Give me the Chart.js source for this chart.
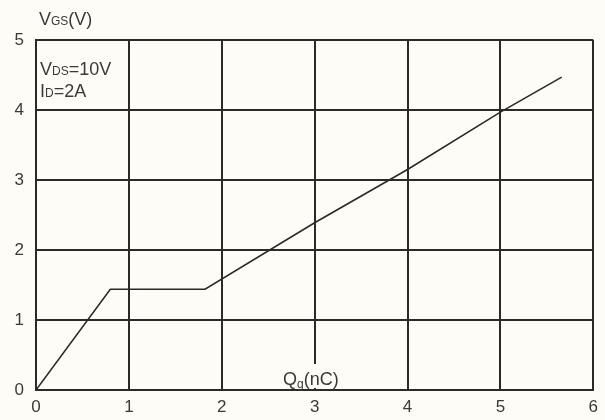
<!DOCTYPE html>
<html>
<head>
<meta charset="utf-8">
<script src="https://cdn.jsdelivr.net/npm/chart.js@4/dist/chart.umd.min.js"></script>
<style>
  html, body { margin: 0; padding: 0; background: #fdfcf7; }
  #wrap { width: 605px; height: 420px; position: relative; }
</style>
</head>
<body>
<div id="wrap"><canvas id="c" width="605" height="420"></canvas></div>
<script>
// Gate charge curve: Qg (nC) vs VGS (V)
const qgNC = [0, 0.8, 1.82, 3, 4, 5, 5.66];
const vgsV = [0, 1.44, 1.44, 2.39, 3.15, 3.97, 4.47];
const xTicks = [0, 1, 2, 3, 4, 5, 6];
const yTicks = [0, 1, 2, 3, 4, 5];

const FONT = '"Liberation Sans", Arial, sans-serif';
const INK = '#2a2a26';
const TEXT = '#3a3a36';
const PAPER = '#fdfcf7';

// Draws a label made of [text, size, dy] pieces side by side; returns end x
function drawPieces(ctx, x, y, pieces) {
  let cx = x;
  for (const [t, size, dy] of pieces) {
    ctx.font = size + 'px ' + FONT;
    ctx.fillText(t, cx, y + (dy || 0));
    cx += ctx.measureText(t).width;
  }
  return cx;
}

const labels = {
  id: 'labels',
  afterDraw(chart) {
    const ctx = chart.ctx;
    ctx.save();
    ctx.textBaseline = 'alphabetic';
    ctx.textAlign = 'left';
    // clear a box under the x-axis title so the grid line stops above it
    ctx.fillStyle = PAPER;
    ctx.fillRect(280, 364, 74, 24);
    ctx.fillStyle = TEXT;
    drawPieces(ctx, 39, 25, [['V', 18], ['GS', 12], ['(V)', 18]]);
    drawPieces(ctx, 40, 75, [['V', 18], ['DS', 12], ['=10V', 18]]);
    drawPieces(ctx, 40, 97, [['I', 18], ['D', 12], ['=2A', 18]]);
    drawPieces(ctx, 283, 385, [['Q', 18], ['g', 12, 3], ['(nC)', 18]]);
    ctx.restore();
  }
};

new Chart(document.getElementById('c'), {
  type: 'scatter',
  data: {
    datasets: [{
      data: qgNC.map((q, i) => ({ x: q, y: vgsV[i] })),
      showLine: true,
      borderColor: INK,
      borderWidth: 1.6,
      pointRadius: 0,
      tension: 0
    }]
  },
  options: {
    responsive: false,
    animation: false,
    layout: { padding: { top: 40, right: 7, left: 0, bottom: 0 } },
    plugins: { legend: { display: false }, tooltip: { enabled: false } },
    scales: {
      x: {
        type: 'linear', min: 0, max: 6,
        afterBuildTicks: s => { s.ticks = xTicks.map(v => ({ value: v })); },
        afterFit: s => { s.height = 30; },
        grid: { color: INK, lineWidth: 2, drawTicks: false },
        border: { color: INK, width: 2 },
        ticks: { color: TEXT, font: { family: FONT, size: 17 }, padding: 7 }
      },
      y: {
        type: 'linear', min: 0, max: 5,
        afterBuildTicks: s => { s.ticks = yTicks.map(v => ({ value: v })); },
        afterFit: s => { s.width = 36; },
        grid: { color: INK, lineWidth: 2, drawTicks: false },
        border: { color: INK, width: 2 },
        ticks: { color: TEXT, font: { family: FONT, size: 17 }, padding: 12 }
      }
    }
  },
  plugins: [labels]
});
</script>
</body>
</html>
